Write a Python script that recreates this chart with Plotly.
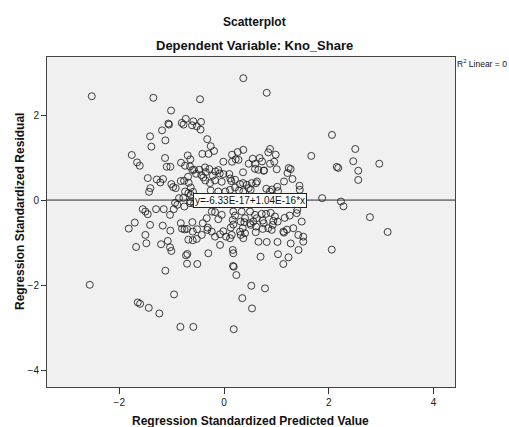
import plotly.graph_objects as go

# Regression Standardized Predicted Value
pred = [
    -2.525, -2.563, -1.349, -1.011, -1.063, -1.050, -0.731, -0.807, -0.773, -0.611,
    -1.183, -1.412, -1.120, -1.387, -1.761, -1.660, -1.609, -1.126, -1.094, -1.025,
    -0.693, -0.643, -0.821, -0.744, -0.605, -0.687, -1.456, -1.284, -1.216, -1.164,
    -1.406, -1.431, -1.006, -0.973, -0.922, -0.826, -0.763, -0.674, -0.635, -0.744,
    -0.681, -0.635, -0.859, -0.777, -0.935, -0.891, -0.758, -0.649, -1.552, -1.502,
    -1.456, -1.298, -1.151, -0.960, -1.704, -1.819, -1.412, -1.170, -1.025, -0.826,
    -0.802, -0.754, -0.706, -0.605, -1.502, -1.483, -1.679, -1.202, -1.074, -1.031,
    -1.006, -0.681, -0.597, -0.725, -0.700, -0.706, -1.120, -0.954, -1.647, -1.603,
    -1.437, -1.235, -0.834, -0.586, -1.031, -0.510,
    -0.458, 0.368, 0.815, -0.586, -0.439, -0.521, -0.448, -0.321, -0.254, -0.191,
    -0.414, -0.296, 0.153, 0.261, 0.368, 0.223, 0.153, 0.277, 0.548, 0.681,
    0.725, 0.597, 0.471, -0.013, 0.363, -0.649, -0.573, -0.471, -0.534, -0.349,
    -0.433, -0.281, -0.166, -0.109, -0.082, -0.216, -0.013, 0.101, 0.120, -0.357,
    -0.172, -0.044, 0.139, 0.363, 0.210, 0.305, 0.433, 0.529, 0.471, 0.510,
    0.210, 0.286, 0.368, -0.254, -0.109, 0.025, 0.115, -0.395, -0.267, -0.363,
    -0.643, -0.573, -0.592,
    0.878, 0.845, 0.987, 0.878, 0.958, 0.763, 0.592, 0.655, 0.758, 1.006,
    1.235, 1.273, 1.212, 1.307, 1.145, 1.017, 0.916, 1.441, 1.447, 0.807,
    0.878, 1.031, 0.630, 0.611, 1.666, 2.061, 2.506, 2.467, 2.964, 2.153,
    2.181, 2.563, 2.563, 1.874, 2.233, 2.281, 2.786, 3.124, 2.057,
    0.719, 0.592, 0.802, 0.891, 0.973, 1.025, 0.929, 0.845, 0.910, 0.758,
    1.132, 1.323, 1.387, 1.399, 1.483, 1.418, 1.513, 1.513, 1.273, 1.422,
    0.658, 0.815, 1.021, 1.031, 1.231, 0.697, 1.132, 1.145,
    -0.235, -0.172, -0.044, 0.177, 0.210, 0.166, 0.319, 0.401, 0.496, 0.559,
    0.624, 0.496, 0.338, -0.597, -0.521, -0.426, -0.235, -0.172, -0.076, 0.038,
    0.115, 0.147, 0.305, 0.401, 0.510, 0.611, -0.300, -0.076, 0.166, 0.177,
    -0.319, 0.319, 0.368, 0.172, 0.185, 0.235, 0.521, 0.782, 0.349, 0.534,
    0.185, -0.406, -0.330, -0.311, -0.109, 0.177, 0.387, 0.739, 0.941, 1.158,
    1.254, 1.202, 0.739, 0.605, 0.357, 0.128, -0.013, -0.515,
]

# Regression Standardized Residual
resid = [
    2.446, -1.993, 2.409, 2.109, 1.802, 1.778, 1.913, 1.818, 1.778, 1.762,
    1.643, 1.502, 1.407, 1.259, 1.063, 0.888, 0.810, 0.992, 0.786, 0.786,
    1.053, 0.959, 0.881, 0.810, 0.708, 0.550, 0.519, 0.486, 0.416, 0.496,
    0.283, 0.196, 0.378, 0.307, 0.283, 0.449, 0.456, 0.408, 0.298, 0.203,
    0.165, 0.125, 0.047, 0.054, -0.064, -0.111, -0.151, -0.071, -0.213, -0.269,
    -0.331, -0.213, -0.213, -0.213, -0.529, -0.671, -0.583, -0.600, -0.718, -0.543,
    -0.671, -0.690, -0.678, -0.519, -0.819, -1.015, -1.103, -1.039, -0.961, -1.110,
    -1.197, -0.930, -0.945, -1.299, -1.268, -1.497, -1.662, -2.220, -2.409, -2.442,
    -2.536, -2.668, -2.985, -2.985, -0.347, -1.504,
    2.375, 2.871, 2.527, 1.856, 1.842, 1.738, 1.660, 1.436, 1.270, 1.157,
    1.089, 1.089, 1.070, 1.133, 1.183, 0.963, 0.904, 0.947, 0.975, 0.992,
    0.911, 0.857, 0.857, 0.904, 0.656, 0.793, 0.715, 0.715, 0.621, 0.661,
    0.590, 0.732, 0.675, 0.708, 0.628, 0.574, 0.614, 0.614, 0.510, 0.463,
    0.463, 0.432, 0.449, 0.401, 0.479, 0.378, 0.361, 0.401, 0.283, 0.243,
    0.298, 0.227, 0.203, 0.227, 0.203, 0.203, 0.243, 0.534, 0.401, 0.770,
    -0.033, -0.087, 0.196,
    1.204, 1.124, 1.070, 0.857, 0.904, 0.699, 0.739, 0.715, 0.692, 0.727,
    0.756, 0.732, 0.638, 0.498, 0.439, 0.314, 0.250, 0.338, 0.243, 0.267,
    0.203, 0.213, 0.439, 0.397, 1.041, 1.535, 1.204, 0.916, 0.857, 0.782,
    0.758, 0.692, 0.475, 0.047, -0.033, -0.146, -0.401, -0.749, -1.166,
    -0.323, -0.347, -0.323, -0.300, -0.387, -0.505, -0.583, -0.661, -0.701, -0.543,
    -0.741, -0.661, -0.307, -0.229, -0.505, -0.819, -0.860, -0.978, -1.020, -1.174,
    -0.980, -0.985, -0.985, -1.273, -1.346, -1.332, -1.504, -0.765,
    -0.269, -0.283, -0.347, -0.269, -0.364, -0.465, -0.505, -0.425, -0.543, -0.505,
    -0.425, -0.269, -0.269, -0.741, -0.914, -0.819, -0.741, -0.860, -0.803, -0.860,
    -0.897, -0.819, -0.741, -0.779, -0.583, -0.623, -1.251, -1.055, -1.174, -1.251,
    -0.701, -0.819, -0.897, -1.551, -1.568, -1.764, -2.017, -2.078, -2.307, -2.550,
    -3.039, -0.543, -0.425, -0.647, -0.449, -0.576, -0.519, -0.482, -0.489, -0.418,
    -0.364, -0.694, -0.678, -0.756, -0.661, -0.647, -0.732, -0.685,
]

fit_intercept = -6.33e-17
fit_slope = 1.04e-16
fit_label = "y=-6.33E-17+1.04E-16*x"
r2_label = "R<sup>2</sup> Linear = 0"
title_text = "Scatterplot"
subtitle_text = "Dependent Variable: Kno_Share"
x_title = "Regression Standardized Predicted Value"
y_title = "Regression Standardized Residual"

x_range = [-3.38, 4.41]
y_range = [-4.40, 3.37]
x_ticks = [-2, 0, 2, 4]
y_ticks = [-4, -2, 0, 2]

FONT = "Liberation Sans, Arial, sans-serif"
W, H = 509, 427
ML, MR, MT, MB = 47, 54, 57, 40
PW, PH = W - ML - MR, H - MT - MB


def px(xp):
    return (xp - ML) / PW


def py(yp):
    return (H - MB - yp) / PH


fig = go.Figure()

fig.add_trace(go.Scatter(
    x=[x_range[0], x_range[1]],
    y=[fit_intercept + fit_slope * x_range[0], fit_intercept + fit_slope * x_range[1]],
    mode="lines",
    line=dict(color="#7f7f7f", width=1.6),
    hoverinfo="skip",
    showlegend=False,
))

fig.add_trace(go.Scatter(
    x=pred, y=resid,
    mode="markers",
    marker=dict(symbol="circle-open", size=7, color="rgba(30,30,30,0.85)",
                line=dict(width=1, color="rgba(30,30,30,0.85)")),
    showlegend=False,
))

fig.add_annotation(
    x=0.5, y=fit_intercept, xref="x", yref="y",
    text=fit_label, showarrow=False,
    font=dict(family=FONT, size=10, color="#111"),
    bgcolor="white", bordercolor="#222", borderwidth=1, borderpad=1,
)

fig.add_annotation(
    x=px(455), y=py(56), xref="paper", yref="paper", xanchor="left", yanchor="top",
    text=r2_label, showarrow=False,
    font=dict(family=FONT, size=8.5, color="#111"),
)

fig.add_annotation(
    x=px(254.5), y=py(22), xref="paper", yref="paper",
    xanchor="center", yanchor="middle", showarrow=False,
    text="<b>" + title_text + "</b>", font=dict(family=FONT, size=12, color="#111"),
)
fig.add_annotation(
    x=px(254), y=py(45), xref="paper", yref="paper",
    xanchor="center", yanchor="middle", showarrow=False,
    text="<b>" + subtitle_text + "</b>", font=dict(family=FONT, size=13, color="#111"),
)
fig.add_annotation(
    x=px(250), y=py(421), xref="paper", yref="paper",
    xanchor="center", yanchor="middle", showarrow=False,
    text="<b>" + x_title + "</b>", font=dict(family=FONT, size=12, color="#111"),
)
fig.add_annotation(
    x=px(20), y=py(212), xref="paper", yref="paper",
    xanchor="center", yanchor="middle", showarrow=False, textangle=-90,
    text="<b>" + y_title + "</b>", font=dict(family=FONT, size=12, color="#111"),
)

fig.update_layout(
    width=W, height=H,
    margin=dict(l=ML, r=MR, t=MT, b=MB, autoexpand=False),
    paper_bgcolor="white",
    plot_bgcolor="#f0f0f0",
    font=dict(family=FONT, size=10, color="#222"),
    xaxis=dict(
        range=x_range, tickvals=x_ticks, ticks="outside", ticklen=6, tickwidth=1,
        tickcolor="#333", showgrid=False, zeroline=False, automargin=False,
        showline=True, linecolor="#444", linewidth=1, mirror=True,
        tickfont=dict(family=FONT, size=10, color="#222"),
    ),
    yaxis=dict(
        range=y_range, tickvals=y_ticks, ticks="outside", ticklen=5, tickwidth=1,
        tickcolor="#333", showgrid=False, zeroline=False, automargin=False,
        showline=True, linecolor="#444", linewidth=1, mirror=True,
        tickfont=dict(family=FONT, size=10, color="#222"),
    ),
)

fig.write_html("out.html")
